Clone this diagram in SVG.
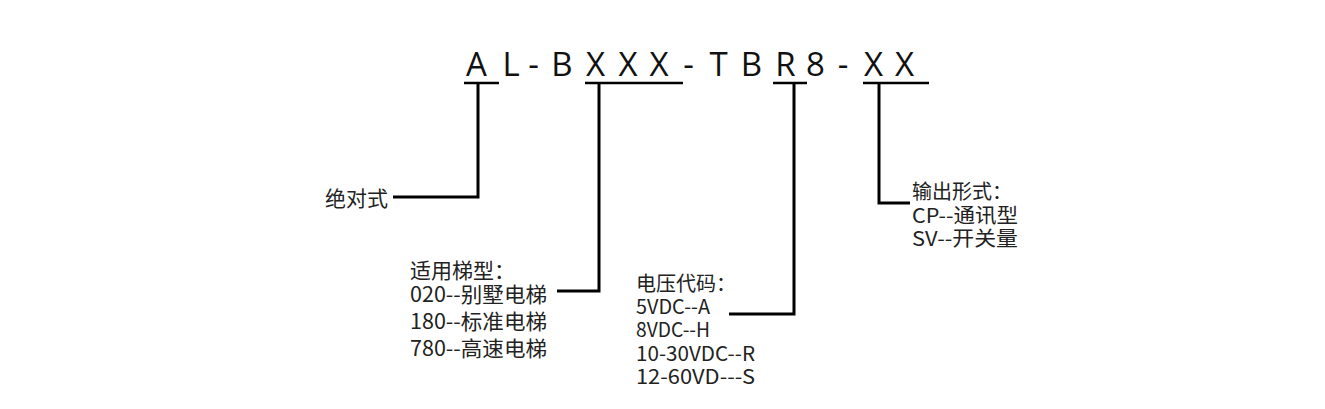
<svg xmlns="http://www.w3.org/2000/svg" width="1325" height="409" viewBox="0 0 1325 409">
<style>
.title{font-family:"Open Sans","Noto Sans",sans-serif;font-size:33px;fill:#111;text-anchor:middle}
.lbl{font-family:"Noto Sans CJK SC","Noto Sans",sans-serif;font-size:21px;fill:#222}
.sm{font-size:20px}
.ln{fill:none;stroke:#000;stroke-width:3;stroke-linejoin:miter;stroke-linecap:butt}
.ul{stroke:#000;stroke-width:2.5}
</style>
<rect width="1325" height="409" fill="#fff"/>
<g id="title">
<text class="title" x="476.5 511 533.5 562 595.5 628 659 688.5 718.5 751.5 785.5 815.5 843 873.5 904.5" y="76">AL-BXXX-TBR8-XX</text>
</g>
<g id="connectors">
<line class="ul" x1="464" y1="83" x2="499" y2="83"/>
<line class="ul" x1="585" y1="83" x2="683" y2="83"/>
<line class="ul" x1="773" y1="83" x2="807" y2="83"/>
<line class="ul" x1="863" y1="83" x2="929" y2="83"/>
<path class="ln" d="M478,83 V197 H393"/>
<path class="ln" d="M599,83 V291 H557"/>
<path class="ln" d="M794,83 V314 H729"/>
<path class="ln" d="M879,83 V203 H910"/>
</g>
<g id="node-absolute">
<text class="lbl" x="325" y="206">绝对式</text>
</g>
<g id="node-elevator">
<text class="lbl" x="410" y="278">适用梯型：</text>
<text class="lbl" x="410" y="302" textLength="137" lengthAdjust="spacingAndGlyphs">020--别墅电梯</text>
<text class="lbl" x="410" y="329" textLength="137" lengthAdjust="spacingAndGlyphs">180--标准电梯</text>
<text class="lbl" x="410" y="356" textLength="137" lengthAdjust="spacingAndGlyphs">780--高速电梯</text>
</g>
<g id="node-voltage">
<text class="lbl sm" x="636" y="291">电压代码：</text>
<text class="lbl sm" x="636" y="314" textLength="74" lengthAdjust="spacingAndGlyphs">5VDC--A</text>
<text class="lbl sm" x="636" y="337" textLength="74" lengthAdjust="spacingAndGlyphs">8VDC--H</text>
<text class="lbl sm" x="636" y="361" textLength="119" lengthAdjust="spacingAndGlyphs">10-30VDC--R</text>
<text class="lbl sm" x="636" y="384" textLength="119" lengthAdjust="spacingAndGlyphs">12-60VD---S</text>
</g>
<g id="node-output">
<text class="lbl sm" x="912" y="199">输出形式：</text>
<text class="lbl sm" x="912" y="223" textLength="106" lengthAdjust="spacingAndGlyphs">CP--通讯型</text>
<text class="lbl sm" x="912" y="246" textLength="106" lengthAdjust="spacingAndGlyphs">SV--开关量</text>
</g>
</svg>
